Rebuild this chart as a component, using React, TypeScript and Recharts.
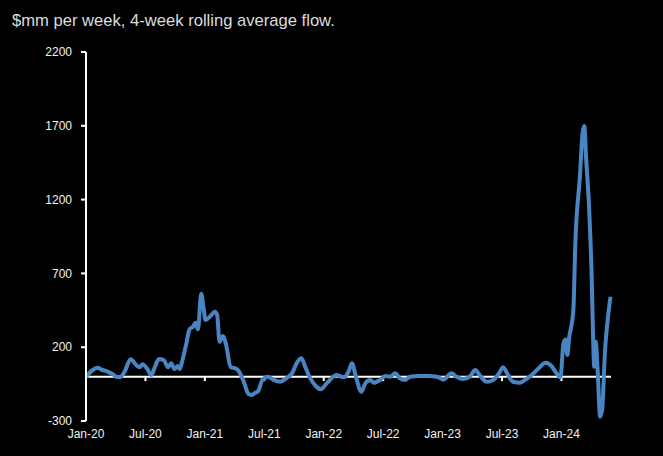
import React from "react";
import {
  LineChart,
  Line,
  XAxis,
  YAxis,
  ReferenceLine,
} from "recharts";

// months since Jan-20 (weekly points)
const months = [
  0, 1.2, 1.5, 1.9, 2.2, 2.7, 3.05, 3.45, 3.9, 4.5, 5.07, 5.4, 5.7, 6.15, 6.6,
  6.9, 7.36, 7.86, 8.27, 8.6, 8.94, 9.27, 9.44, 9.7, 10.1, 10.45, 10.8, 11.06,
  11.3, 11.63, 11.86, 12.07, 12.57, 13.0, 13.24, 13.48, 13.8, 14.15, 14.6,
  15.1, 15.4, 15.93, 16.4, 16.76, 17.0, 17.4, 17.8, 18.35, 18.95, 19.6, 20.2,
  20.8, 21.3, 21.75, 22.15, 22.65, 23.2, 23.7, 24.3, 25.3, 26.0, 26.5, 26.85,
  27.2, 27.8, 28.2, 28.7, 29.04, 29.7, 30.2, 30.7, 31.2, 31.7, 32.2, 32.7,
  33.6, 34.6, 35.4, 36.1, 36.9, 37.4, 38.1, 38.8, 39.3, 39.8, 40.45, 41.1,
  41.7, 42.1, 42.6, 43.1, 43.8, 44.3, 45.0, 45.7, 46.4, 47.0, 47.5, 47.9,
  48.2, 48.4, 48.6, 48.75, 49.2, 49.4, 49.86, 50.13, 50.3, 50.5, 50.8, 51.05,
  51.2, 51.3, 51.45, 51.65, 51.9, 52.1, 52.4, 52.7, 52.95,
];

const flows = [
  0, 61, 50, 41, 34, 18, 0, -2, 34, 118, 79, 64, 84, 57, 12,
  57, 120, 113, 64, 91, 52, 72, 52, 102, 215, 321, 339, 366,
  321, 562, 470, 384, 411, 440, 418, 237, 276, 215, 64,
  57, 41, -34, -117, -124, -113, -95, -22, 0, -22, -34, -11,
  23, 95, 125, 64, -11, -63, -85, -45, 12, -4, 34, 91,
  12, -102, -45, -22, -41, -22, 5, 0, 23, -11, -22, 0,
  5, 5, 0, -18, 23, 0, -16, 5, 45, 5, -34, -22,
  23, 64, 12, -34, -41, -22, 12, 57, 95, 72, 23, -4,
  226, 253, 147, 249, 452, 904, 1355, 1649, 1699, 1468, 1129, 678,
  249, 68, 237, 45, -271, -226, 181, 406, 542,
];

const tickMonths = [0, 6, 12, 18, 24, 30, 36, 42, 48];
const tickLabels = ["Jan-20", "Jul-20", "Jan-21", "Jul-21", "Jan-22", "Jul-22", "Jan-23", "Jul-23", "Jan-24"];
const yTicks = [-300, 200, 700, 1200, 1700, 2200];

const data = months.map((m, i) => ({ m, flow: flows[i] }));

const FONT = '"Liberation Sans", Arial, sans-serif';

export default function App() {
  return (
    <div
      style={{
        position: "fixed",
        left: 0,
        top: 0,
        width: 663,
        height: 456,
        background: "#000",
        fontFamily: FONT,
      }}
    >
      <div
        style={{
          position: "absolute",
          left: 12,
          top: 13,
          fontSize: 16.6,
          lineHeight: 1,
          color: "#dcdcdc",
          whiteSpace: "nowrap",
        }}
      >
        $mm per week, 4-week rolling average flow.
      </div>
      <LineChart
        width={663}
        height={456}
        data={data}
        margin={{ top: 52, right: 52, left: 26, bottom: 10 }}
      >
        <XAxis
          dataKey="m"
          type="number"
          domain={[0, 53]}
          ticks={tickMonths}
          tickFormatter={(v: number) => tickLabels[tickMonths.indexOf(v)] ?? ""}
          axisLine={false}
          tickLine={false}
          height={25}
          interval={0}
          tick={{ fill: "#f2f2f2", fontSize: 12, fontFamily: FONT }}
        />
        <YAxis
          type="number"
          domain={[-300, 2200]}
          ticks={yTicks}
          width={60}
          interval={0}
          axisLine={{ stroke: "#fff", strokeWidth: 2 }}
          tickLine={{ stroke: "#fff", strokeWidth: 2 }}
          tickSize={5}
          tickMargin={9}
          tick={{ fill: "#f2f2f2", fontSize: 12, fontFamily: FONT }}
        />
        <ReferenceLine y={0} stroke="#fff" strokeWidth={2} />
        {tickMonths.slice(1).map((t) => (
          <ReferenceLine
            key={t}
            segment={[
              { x: t, y: 0 },
              { x: t, y: -30 },
            ]}
            stroke="#fff"
            strokeWidth={2}
          />
        ))}
        <Line
          type="monotone"
          dataKey="flow"
          stroke="#4a85c3"
          strokeWidth={4}
          dot={false}
          isAnimationActive={false}
        />
      </LineChart>
    </div>
  );
}
